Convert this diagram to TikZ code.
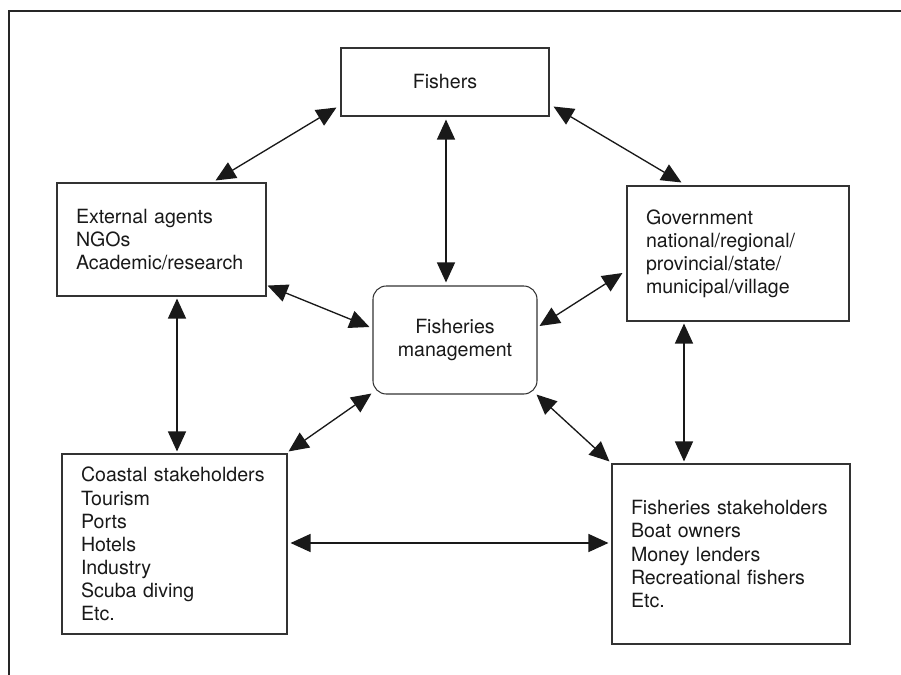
\documentclass[tikz,border=0pt]{standalone}
\usepackage{fontspec}
\setmainfont{TeX Gyre Heros}
\usetikzlibrary{arrows.meta,positioning,calc}

\begin{document}
\begin{tikzpicture}[
    x=0.75pt, y=-0.75pt,
    box/.style={draw=black!80, line width=0.8pt, inner xsep=14.25pt, inner ysep=0pt, align=left, font=\fontsize{14.7}{17.3}\selectfont, text=black!90},
    rbox/.style={box, rounded corners=10pt, align=center},
    arr/.style={{Triangle[length=15pt,width=13.5pt]}-{Triangle[length=15pt,width=13.5pt]}, line width=1pt, black!90}
]
\useasboundingbox (0,0) rectangle (901,675);
\draw[line width=1.1pt, black!85] (9,675) -- (9,11) -- (901,11);

\node[box, align=center, minimum width=156pt, minimum height=51pt] (fish) at (445,82) {Fishers};
\node[box, text width=128.25pt, minimum height=84.75pt] (ext) at (161.5,239.5) {External agents\\NGOs\\Academic/research};
\node[box, text width=138pt, minimum height=101.25pt] (gov) at (738,253.5) {Government\\national/regional/\\provincial/state/\\municipal/village};
\node[rbox, minimum width=123pt, minimum height=81pt] (mgmt) at (455,340) {Fisheries\\management};
\node[box, text width=140.25pt, minimum height=135pt] (coast) at (174.5,544) {Coastal stakeholders\\Tourism\\Ports\\Hotels\\Industry\\Scuba diving\\Etc.};
\node[box, text width=150pt, minimum height=135pt] (fstk) at (731,554) {Fisheries stakeholders\\Boat owners\\Money lenders\\Recreational fishers\\Etc.};

\draw[arr] ($(fish.south west)+(-4,-9)$) -- ($(ext.north east)+(-51,-2)$);
\draw[arr] ($(fish.south east)+(4,-10)$) -- ($(gov.north west)+(55,-3)$);
\draw[arr] ($(fish.south)+(1,3)$) -- ($(mgmt.north)+(-9,-3)$);
\draw[arr] ($(ext.south east)+(1,-11)$) -- ($(mgmt.west)+(-3,-13)$);
\draw[arr] ($(gov.west)+(-4,19.5)$) -- ($(mgmt.east)+(2,-14)$);
\draw[arr] ($(ext.south)+(15.5,2)$) -- ($(coast.north)+(2.5,-2)$);
\draw[arr] ($(gov.south)+(-54,2)$) -- ($(fstk.north)+(-47,-2)$);
\draw[arr] ($(mgmt.south west)+(-1,-1)$) -- ($(coast.north east)+(1,-2)$);
\draw[arr] ($(mgmt.south east)+(-1,0)$) -- ($(fstk.north west)+(-2,-2)$);
\draw[arr] ($(coast.east)+(3,-1)$) -- ($(fstk.west)+(-3,-11)$);
\end{tikzpicture}
\end{document}
